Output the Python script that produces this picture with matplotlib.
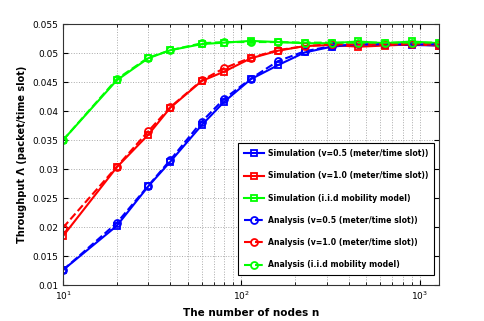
import matplotlib
matplotlib.use("Agg")
import matplotlib.pyplot as plt

# number of nodes
nodes = [10, 20, 30, 40, 60, 80, 113, 160, 226, 320, 453, 640, 905, 1280]

sim_v05 = [0.0126, 0.0202, 0.0270, 0.0313, 0.0376, 0.0416, 0.0455, 0.0479,
           0.0501, 0.0511, 0.0515, 0.0514, 0.0514, 0.0513]
sim_v10 = [0.01845, 0.0303, 0.0359, 0.0406, 0.0452, 0.0468, 0.0491, 0.0504,
           0.0512, 0.0514, 0.0511, 0.0513, 0.0515, 0.0513]
sim_iid = [0.0350, 0.0453, 0.0491, 0.0505, 0.05155, 0.0518, 0.0521, 0.0519,
           0.0517, 0.0517, 0.0520, 0.0517, 0.0520, 0.0517]

ana_v05 = [0.0126, 0.0207, 0.0271, 0.0316, 0.0382, 0.0421, 0.0456, 0.0486,
           0.0503, 0.0512, 0.0515, 0.0515, 0.0515, 0.0515]
ana_v10 = [0.0199, 0.0304, 0.0365, 0.0407, 0.0453, 0.0474, 0.0492, 0.0505,
           0.0512, 0.0515, 0.0515, 0.0515, 0.0516, 0.0516]
ana_iid = [0.0350, 0.0455, 0.0492, 0.0505, 0.0517, 0.0519, 0.0519, 0.0519,
           0.0518, 0.0518, 0.0518, 0.0518, 0.0518, 0.0518]

labels = [
    "Simulation (v=0.5 (meter/time slot))",
    "Simulation (v=1.0 (meter/time slot))",
    "Simulation (i.i.d mobility model)",
    "Analysis (v=0.5 (meter/time slot))",
    "Analysis (v=1.0 (meter/time slot))",
    "Analysis (i.i.d mobility model)",
]
colors = ["#0000ff", "#ff0000", "#00ff00"]

fig = plt.figure(figsize=(4.85, 3.21), dpi=100)
ax = fig.add_axes([0.13, 0.112, 0.775, 0.813])

for ys, c, lab in zip([sim_v05, sim_v10, sim_iid], colors, labels[:3]):
    ax.plot(nodes, ys, "-", color=c, lw=1.5, marker="s", ms=4.5,
            mfc="none", mec=c, mew=1.3, label=lab)
for ys, c, lab in zip([ana_v05, ana_v10, ana_iid], colors, labels[3:]):
    ax.plot(nodes, ys, "--", color=c, lw=1.5, marker="o", ms=5,
            mfc="none", mec=c, mew=1.3, label=lab)

ax.set_xscale("log")
ax.set_xlim(10, 1280)
ax.set_ylim(0.01, 0.055)
ax.set_yticks([0.01, 0.015, 0.02, 0.025, 0.03, 0.035, 0.04, 0.045, 0.05, 0.055])
ax.set_yticklabels(["0.01", "0.015", "0.02", "0.025", "0.03", "0.035",
                    "0.04", "0.045", "0.05", "0.055"])
ax.tick_params(labelsize=6.5, direction="in", which="both", top=True, right=True)
ax.grid(True, which="both", ls=":", color="#aaaaaa", lw=0.7)

ax.set_xlabel("The number of nodes n", fontsize=7.5, fontweight="bold")
ax.set_ylabel("Throughput \u039b (packet/time slot)", fontsize=7, fontweight="bold")

leg = ax.legend(loc="lower right", bbox_to_anchor=(0.987, 0.038), borderaxespad=0,
                prop={"weight": "bold", "size": 5.55},
                fancybox=False, edgecolor="black", framealpha=1,
                handlelength=2.6, handletextpad=0.5, labelspacing=1.72, borderpad=0.75)
leg.get_frame().set_linewidth(0.8)

for s in ax.spines.values():
    s.set_color("#333333")

fig.savefig("out.png", dpi=100)
